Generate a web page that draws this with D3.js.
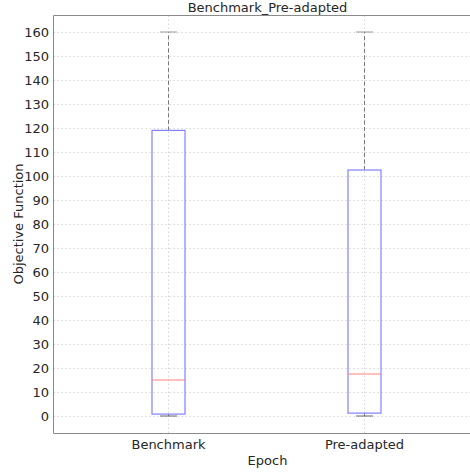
<!DOCTYPE html>
<html>
<head>
<meta charset="utf-8">
<script src="https://cdn.jsdelivr.net/npm/d3@7"></script>
<style>
  body { margin: 0; background: #fff; }
  svg { font-family: "DejaVu Sans", sans-serif; }
  .grid line { stroke: #d8d8d8; stroke-dasharray: 1.5,2.5; }
</style>
</head>
<body>
<div id="chart"></div>
<script>
// --- data ---
const categories = ["Benchmark", "Pre-adapted"];
const whiskLow = [0, 0];
const q1 = [0.8, 1.2];
const medians = [15, 17.5];
const q3 = [119, 102.5];
const whiskHigh = [160, 160];
const yTicks = [0, 10, 20, 30, 40, 50, 60, 70, 80, 90, 100, 110, 120, 130, 140, 150, 160];

const W = 470, H = 472;
const plot = { left: 53.5, top: 15.5, right: 481, bottom: 433.5 };

const svg = d3.select("#chart").append("svg").attr("width", W).attr("height", H);

const x = d3.scaleLinear().domain([1, 2]).range([168.5, 364.5]);
const y = d3.scaleLinear().domain([0, 160]).range([416, 32]);
const boxW = 33;

// grid
const grid = svg.append("g").attr("class", "grid");
grid.selectAll("line.h").data(yTicks).enter().append("line")
  .attr("x1", plot.left).attr("x2", plot.right)
  .attr("y1", d => Math.round(y(d)) + 0.5).attr("y2", d => Math.round(y(d)) + 0.5);
grid.selectAll("line.v").data(categories).enter().append("line")
  .attr("x1", (d, i) => x(i + 1)).attr("x2", (d, i) => x(i + 1))
  .attr("y1", plot.top).attr("y2", plot.bottom);

// boxes
const boxes = svg.append("g").selectAll("g").data(categories).enter().append("g");
boxes.append("line") // upper whisker
  .attr("x1", (d, i) => x(i + 1)).attr("x2", (d, i) => x(i + 1))
  .attr("y1", (d, i) => y(q3[i])).attr("y2", (d, i) => y(whiskHigh[i]))
  .attr("stroke", "#777").attr("stroke-dasharray", "4,2.5");
boxes.append("line") // lower whisker
  .attr("x1", (d, i) => x(i + 1)).attr("x2", (d, i) => x(i + 1))
  .attr("y1", (d, i) => y(q1[i])).attr("y2", (d, i) => y(whiskLow[i]))
  .attr("stroke", "#777").attr("stroke-dasharray", "4,2.5");
boxes.append("line") // top cap
  .attr("x1", (d, i) => x(i + 1) - 8.5).attr("x2", (d, i) => x(i + 1) + 8.5)
  .attr("y1", (d, i) => y(whiskHigh[i])).attr("y2", (d, i) => y(whiskHigh[i]))
  .attr("stroke", "#999");
boxes.append("line") // bottom cap
  .attr("x1", (d, i) => x(i + 1) - 8.5).attr("x2", (d, i) => x(i + 1) + 8.5)
  .attr("y1", (d, i) => y(whiskLow[i])).attr("y2", (d, i) => y(whiskLow[i]))
  .attr("stroke", "#666");
boxes.append("rect")
  .attr("x", (d, i) => x(i + 1) - boxW / 2)
  .attr("y", (d, i) => y(q3[i]))
  .attr("width", boxW)
  .attr("height", (d, i) => y(q1[i]) - y(q3[i]))
  .attr("fill", "none").attr("stroke", "#8080ff").attr("stroke-width", 1.2);
boxes.append("line") // median
  .attr("x1", (d, i) => x(i + 1) - boxW / 2).attr("x2", (d, i) => x(i + 1) + boxW / 2)
  .attr("y1", (d, i) => y(medians[i])).attr("y2", (d, i) => y(medians[i]))
  .attr("stroke", "#ff8080").attr("stroke-width", 1.2);

// spines
const spine = "#8a8a8a";
svg.append("line").attr("x1", plot.left).attr("x2", plot.left)
  .attr("y1", plot.top).attr("y2", plot.bottom).attr("stroke", spine);
svg.append("line").attr("x1", plot.left).attr("x2", plot.right)
  .attr("y1", plot.top).attr("y2", plot.top).attr("stroke", spine);
svg.append("line").attr("x1", plot.left).attr("x2", plot.right)
  .attr("y1", plot.bottom).attr("y2", plot.bottom).attr("stroke", spine);

// tick labels
const txt = "#262626";
svg.append("g").selectAll("text").data(yTicks).enter().append("text")
  .attr("x", 49).attr("y", d => y(d))
  .attr("dy", "0.36em").attr("text-anchor", "end")
  .attr("font-size", 13).attr("fill", txt).text(d => d);
svg.append("g").selectAll("text").data(categories).enter().append("text")
  .attr("x", (d, i) => x(i + 1)).attr("y", 449)
  .attr("text-anchor", "middle").attr("font-size", 13).attr("fill", txt).text(d => d);

// titles
svg.append("text").attr("x", 267.5).attr("y", 12).attr("text-anchor", "middle")
  .attr("font-size", 13).attr("fill", txt).text("Benchmark_Pre-adapted");
svg.append("text").attr("x", 267.5).attr("y", 465).attr("text-anchor", "middle")
  .attr("font-size", 13).attr("fill", txt).text("Epoch");
svg.append("text").attr("transform", "translate(23,224) rotate(-90)")
  .attr("text-anchor", "middle").attr("font-size", 13).attr("fill", txt).text("Objective Function");
</script>
</body>
</html>
